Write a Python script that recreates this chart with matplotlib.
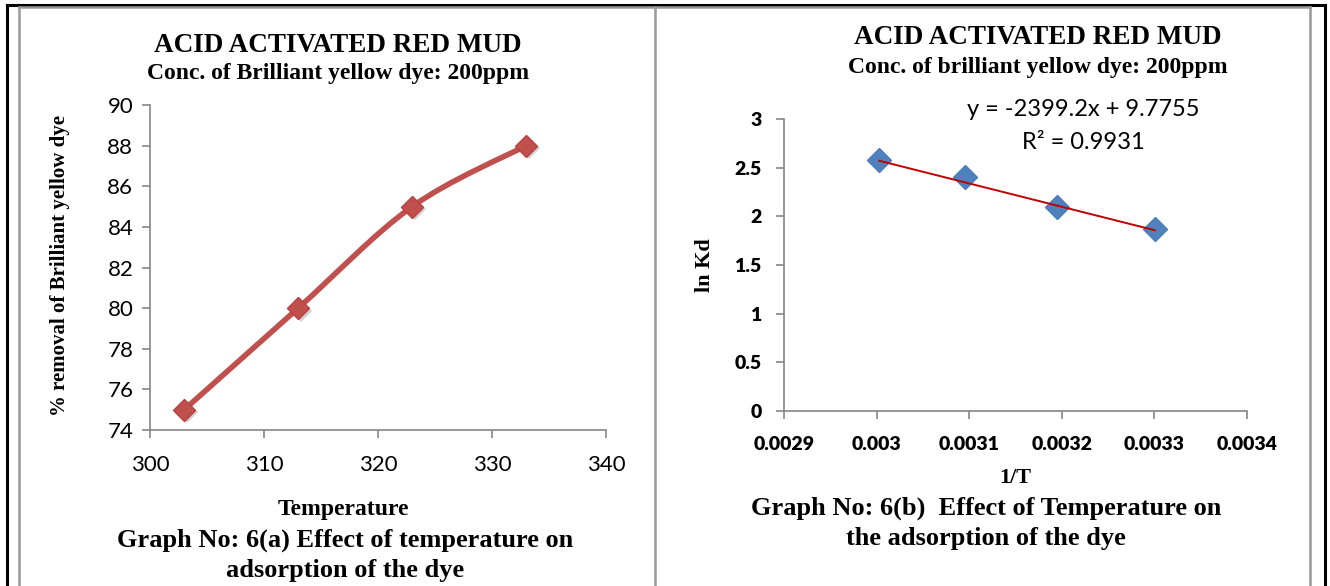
import numpy as np
import matplotlib
matplotlib.use('Agg')
import matplotlib.pyplot as plt
from matplotlib.path import Path
from matplotlib.patches import PathPatch
from matplotlib.lines import Line2D
import matplotlib.transforms as mtransforms

# data
temperature = [303, 313, 323, 333]
removal = [75, 80, 85, 88]
inv_t = [1 / 333, 1 / 323, 1 / 313, 1 / 303]
ln_kd = [2.58, 2.40, 2.10, 1.875]
fit_slope = -2399.2
fit_intercept = 9.7755
fit_r2 = 0.9931

W, H = 1330, 586
serif = 'Liberation Serif'
sans = 'Lato'

fig = plt.figure(figsize=(W / 100, H / 100), dpi=100)


def px(x, y):
    return x / W, 1 - y / H


def ftext(x, y, s, **kw):
    fx, fy = px(x, y)
    fig.text(fx, fy, s, ha='center', va='center', **kw)


def style_axes(ax):
    for s in ['top', 'right']:
        ax.spines[s].set_visible(False)
    for s in ['left', 'bottom']:
        ax.spines[s].set_color('#868686')
        ax.spines[s].set_linewidth(1.2)
    ax.tick_params(direction='out', length=6, width=1.2, color='#868686')


# table borders
black = dict(color='black', lw=2.2, transform=fig.transFigure)
gray = dict(color='#999999', lw=1.8, transform=fig.transFigure)
for (x0, y0), (x1, y1), kw in [((7, 5), (1325, 5), black),
                               ((7, 5), (7, 586), black),
                               ((1325, 5), (1325, 586), black),
                               ((19, 7), (1310, 7), gray),
                               ((19, 7), (19, 586), gray),
                               ((655, 7), (655, 586), gray),
                               ((1310, 7), (1310, 586), gray)]:
    a, b = px(x0, y0), px(x1, y1)
    fig.add_artist(Line2D([a[0], b[0]], [a[1], b[1]], **kw))

# ---- left graph ----
ax1 = fig.add_axes([150 / W, 1 - 430 / H, 456 / W, 325 / H])
style_axes(ax1)
ax1.set_xlim(300, 340)
ax1.set_ylim(74, 90)
ax1.set_xticks(np.arange(300, 341, 10))
ax1.set_yticks(np.arange(74, 91, 2))
for lab in ax1.get_xticklabels() + ax1.get_yticklabels():
    lab.set_fontfamily(sans)
    lab.set_fontsize(16)
ax1.tick_params(axis='x', pad=12)
ax1.tick_params(axis='y', pad=6)

# smoothed line (bezier through the points)
P = np.column_stack([temperature, removal]).astype(float)
Pe = np.vstack([P[0], P, P[-1]])
verts = [tuple(P[0])]
codes = [Path.MOVETO]
for i in range(len(P) - 1):
    p0, p1, p2, p3 = Pe[i], Pe[i + 1], Pe[i + 2], Pe[i + 3]
    c1 = p1 + (p2 - p0) / 6
    c2 = p2 - (p3 - p1) / 6
    verts += [tuple(c1), tuple(c2), tuple(p2)]
    codes += [Path.CURVE4] * 3
ax1.add_patch(PathPatch(Path(verts, codes), fill=False, edgecolor='#C0504D',
                        lw=4, capstyle='round'))
shadow = mtransforms.offset_copy(ax1.transData, fig=fig, x=2, y=-2, units='points')
ax1.plot(temperature, removal, 'D', color='#7a7a7a', alpha=0.35, markersize=11,
         markeredgewidth=0, transform=shadow)
ax1.plot(temperature, removal, 'D', color='#C0504D', markersize=11,
         markeredgecolor='#B8403D')

ftext(338, 45, 'ACID ACTIVATED RED MUD', family=serif, weight='bold', fontsize=19.5)
ftext(338, 73, 'Conc. of Brilliant yellow dye: 200ppm', family=serif,
      weight='bold', fontsize=17)
ftext(60, 265, '% removal of Brilliant yellow dye', family=serif,
      weight='bold', fontsize=15)
fig.texts[-1].set_rotation(90)
ftext(343, 510, 'Temperature', family=serif, weight='bold', fontsize=17)
ftext(345, 540, 'Graph No: 6(a) Effect of temperature on', family=serif,
      weight='bold', fontsize=19)
ftext(345, 570, 'adsorption of the dye', family=serif, weight='bold', fontsize=19)

# ---- right graph ----
ax2 = fig.add_axes([784 / W, 1 - 411 / H, 463 / W, 292 / H])
style_axes(ax2)
ax2.set_xlim(0.0029, 0.0034)
ax2.set_ylim(0, 3)
xt = [0.0029, 0.003, 0.0031, 0.0032, 0.0033, 0.0034]
ax2.set_xticks(xt)
ax2.set_xticklabels(['0.0029', '0.003', '0.0031', '0.0032', '0.0033', '0.0034'])
ax2.set_yticks(np.arange(0, 3.1, 0.5))
ax2.set_yticklabels(['0', '0.5', '1', '1.5', '2', '2.5', '3'])
for lab in ax2.get_xticklabels() + ax2.get_yticklabels():
    lab.set_fontfamily(sans)
    lab.set_fontsize(14)
    lab.set_fontweight('heavy')
ax2.tick_params(axis='x', pad=12)
ax2.tick_params(axis='y', pad=10)

ax2.plot(inv_t, ln_kd, 'D', color='#4F81BD', markersize=12,
         markeredgecolor='#4A7EBB', zorder=2)
fx = np.array([min(inv_t), max(inv_t)])
ax2.plot(fx, fit_slope * fx + fit_intercept, color='#C00000', lw=1.4, zorder=3)

ftext(1038, 37, 'ACID ACTIVATED RED MUD', family=serif, weight='bold', fontsize=19.5)
ftext(1038, 67, 'Conc. of brilliant yellow dye: 200ppm', family=serif,
      weight='bold', fontsize=17)
ftext(1083, 110, 'y = -2399.2x + 9.7755', family=sans, fontsize=17)
ftext(1083, 142, 'R² = %.4f' % fit_r2, family=sans, fontsize=17)
ftext(705, 265, 'ln Kd', family=serif, weight='bold', fontsize=16)
fig.texts[-1].set_rotation(90)
ftext(1015, 478, '1/T', family=serif, weight='bold', fontsize=16)
ftext(986, 508, 'Graph No: 6(b)  Effect of Temperature on', family=serif,
      weight='bold', fontsize=19)
ftext(986, 538, 'the adsorption of the dye', family=serif, weight='bold', fontsize=19)

fig.savefig('out.png', dpi=100)
